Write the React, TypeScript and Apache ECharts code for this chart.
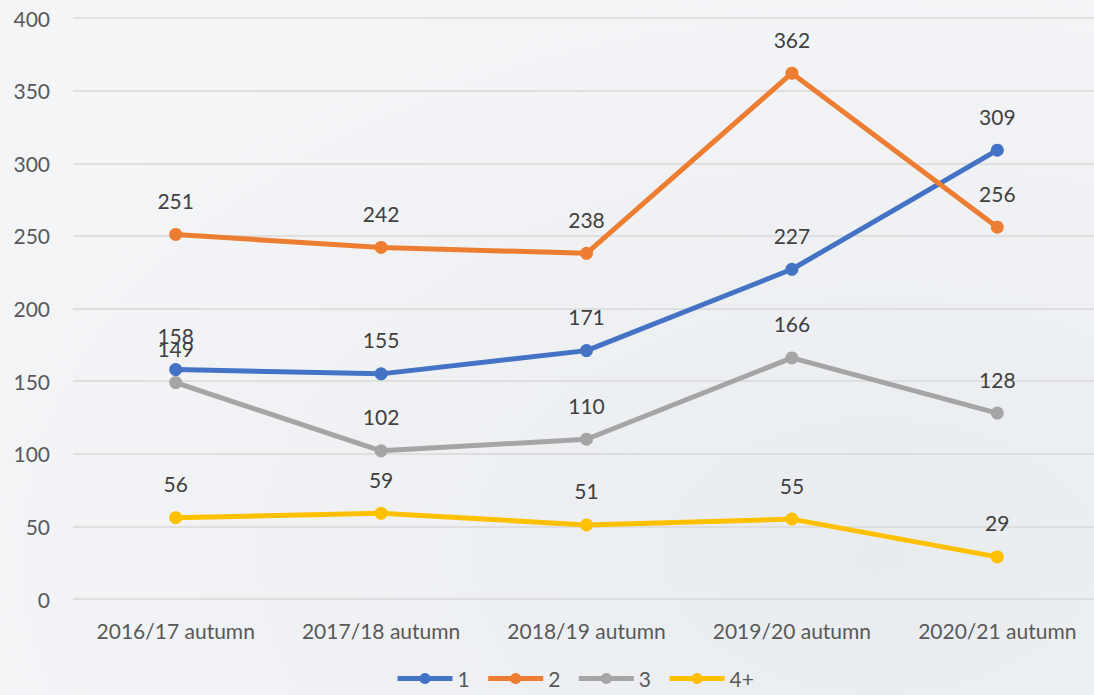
import React, { useEffect, useRef } from "react";
import * as echarts from "echarts";

const categories = ["2016/17 autumn", "2017/18 autumn", "2018/19 autumn", "2019/20 autumn", "2020/21 autumn"];
const series1 = [158, 155, 171, 227, 309];
const series2 = [251, 242, 238, 362, 256];
const series3 = [149, 102, 110, 166, 128];
const series4 = [56, 59, 51, 55, 29];
const seriesNames = ["1", "2", "3", "4+"];
const colors = ["#4472C4", "#ED7D31", "#A5A5A5", "#FFC000"];

const FONT = "Lato, 'Open Sans', sans-serif";

export default function App() {
  const ref = useRef<HTMLDivElement>(null);
  useEffect(() => {
    if (!ref.current) return;
    const chart = echarts.init(ref.current, undefined, { renderer: "svg" });
    const data = [series1, series2, series3, series4];
    chart.setOption({
      animation: false,
      backgroundColor: {
        type: "radial",
        x: 0.8,
        y: 0.8,
        r: 0.9,
        colorStops: [
          { offset: 0, color: "#e9ecef" },
          { offset: 1, color: "#f4f5f7" },
        ],
      },
      color: colors,
      grid: { left: 73, right: 0, top: 18, bottom: 96, containLabel: false },
      legend: {
        bottom: 1,
        left: 390,
        itemWidth: 55,
        itemHeight: 14,
        itemGap: 16,
        lineStyle: { width: 5 },
        textStyle: { color: "#595959", fontSize: 21, fontFamily: FONT },
        data: seriesNames,
      },
      xAxis: {
        type: "category",
        data: categories,
        boundaryGap: true,
        axisLine: { show: false },
        axisTick: { show: false },
        axisLabel: { color: "#595959", fontSize: 21, fontFamily: FONT, margin: 21, interval: 0 },
      },
      yAxis: {
        type: "value",
        min: 0,
        max: 400,
        interval: 50,
        axisLine: { show: false },
        axisTick: { show: false },
        splitLine: { lineStyle: { color: "#d9d9d9", width: 1.5 } },
        axisLabel: { color: "#595959", fontSize: 21, fontFamily: FONT, margin: 23 },
      },
      series: data.map((d, i) => ({
        name: seriesNames[i],
        type: "line",
        data: d,
        symbol: "circle",
        symbolSize: 13,
        lineStyle: { width: 5, color: colors[i] },
        itemStyle: { color: colors[i] },
        label: {
          show: true,
          position: "top",
          distance: 17,
          color: "#404040",
          fontSize: 21,
          fontFamily: FONT,
        },
      })),
    });
    return () => chart.dispose();
  }, []);
  return (
    <div
      style={{ position: "absolute", left: 0, top: 0, width: 1094, height: 695, overflow: "hidden" }}
    >
      <div ref={ref} style={{ width: 1100, height: 695 }} />
    </div>
  );
}
